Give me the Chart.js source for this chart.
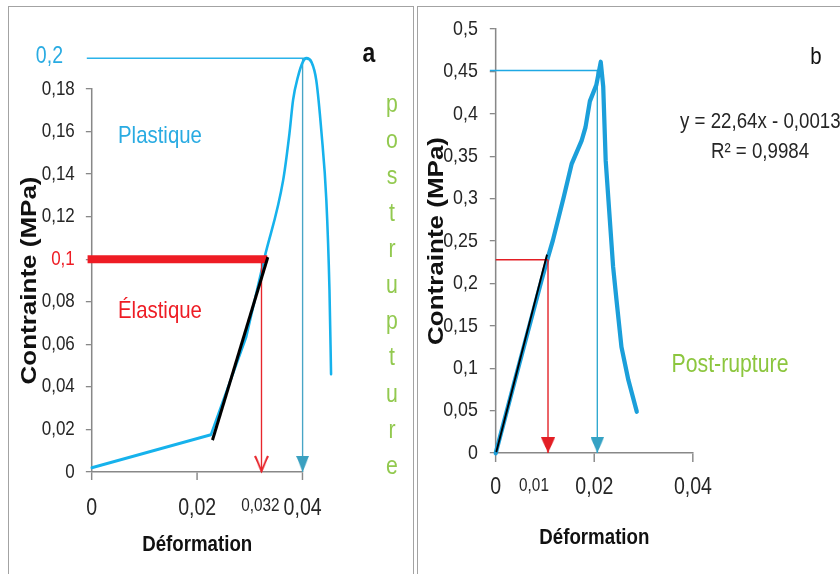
<!DOCTYPE html>
<html>
<head>
<meta charset="utf-8">
<script src="https://cdn.jsdelivr.net/npm/chart.js@4.4.1/dist/chart.umd.min.js"></script>
<style>
  html, body { margin: 0; padding: 0; background: #fff; }
  body { width: 840px; height: 574px; position: relative; overflow: hidden; }
  .panel { position: absolute; border: 1.5px solid #a3a3a3; box-sizing: border-box; }
  #panelA { left: 8px; top: 6px; width: 406px; height: 620px; }
  #panelB { left: 417px; top: 6px; width: 500px; height: 620px; }
  .wrap { position: absolute; top: 0; height: 574px; overflow: hidden; }
  #wrapA { left: 0; width: 415px; }
  #wrapB { left: 415px; width: 425px; }
  .inner { position: absolute; left: 0; top: 0; height: 574px; }
  #innerA { width: 488px; }
  #innerB { width: 500px; }
</style>
</head>
<body>
<div class="panel" id="panelA"></div>
<div class="panel" id="panelB"></div>
<div class="wrap" id="wrapA"><div class="inner" id="innerA"><canvas id="chartA"></canvas></div></div>
<div class="wrap" id="wrapB"><div class="inner" id="innerB"><canvas id="chartB"></canvas></div></div>
<script>
// --- Data: panel a ---
const strainA = [0, 0.0226, 0.0293, 0.0328, 0.0363, 0.0375, 0.0382, 0.0391, 0.0400, 0.0407, 0.0417, 0.0426, 0.0436, 0.0445, 0.0451, 0.0454];
const stressA = [0.002, 0.0175, 0.0635, 0.101, 0.137, 0.159, 0.175, 0.1856, 0.1925, 0.1944, 0.1926, 0.184, 0.159, 0.128, 0.0855, 0.046];
const kneeA = 3;                         // index where the smooth upper part starts
const fitStrainA = [0.0229, 0.0334];
const fitStressA = [0.015, 0.101];
const elasticBarA = [-0.0008, 0.0333];   // red "0,1" bar
const elasticStressA = 0.1;
const elasticStrainA = 0.0322;
const peakLineA = [-0.00095, 0.0407];
const peakStressA = 0.1944;
const peakStrainA = 0.040;
const xTicksA = [0, 0.02, 0.032, 0.04];

// --- Data: panel b ---
const strainB = [0, 0.0039, 0.0093, 0.0106, 0.0116, 0.0138, 0.0154, 0.0174, 0.0182, 0.0191, 0.0204, 0.0213, 0.0218, 0.0223, 0.0238, 0.0245, 0.0255, 0.0269, 0.0286];
const stressB = [0, 0.086, 0.204, 0.231, 0.251, 0.302, 0.341, 0.368, 0.384, 0.415, 0.434, 0.461, 0.432, 0.345, 0.22, 0.18, 0.125, 0.086, 0.049];
const fitStrainB = [0.0001, 0.0104];
const fitStressB = [0.001, 0.234];
const elasticStressB = 0.228;
const elasticStrainB = 0.0106;
const peakLineB = [-0.0012, 0.0212];
const peakStressB = 0.451;
const peakStrainB = 0.0206;

// --- Helpers ---
// the source figure is squeezed horizontally, so both charts are drawn with x scaled by SX
const SX = 0.85;
const lx = v => v / SX;
const FONT = '"Liberation Sans", Arial, sans-serif';
const AXIS = '#888888';
const TXT = '#262626';

const pts = (xs, ys) => xs.map((x, i) => ({ x: x, y: ys[i] }));
const tickFmt = v => String(+Number(v).toFixed(4)).replace('.', ',');

// arrow head image, apex sits at the image centre so it lands on the point
function arrowHead(color, w, h, open) {
    const c = document.createElement('canvas');
    c.width = w; c.height = 2 * h;
    const g = c.getContext('2d');
    g.strokeStyle = color; g.fillStyle = color; g.lineWidth = 2.2;
    g.beginPath();
    if (open) {
        g.moveTo(1, 1); g.lineTo(w / 2, h - 1); g.lineTo(w - 1, 1); g.stroke();
    } else {
        g.moveTo(0, 0); g.lineTo(w, 0); g.lineTo(w / 2, h); g.closePath(); g.fill();
    }
    return c;
}

function seg(data, color, width, extra) {
    return Object.assign({ data: data, showLine: true, borderColor: color, backgroundColor: color,
        borderWidth: width, pointRadius: 0, clip: false, borderCapStyle: 'butt' }, extra || {});
}

function arrow(x, top, color, head) {
    return seg([{ x: x, y: top }, { x: x, y: 0 }], color, 1.6,
        { pointRadius: [0, 6], pointStyle: head, pointBorderWidth: 0 });
}

const squeeze = {
    id: 'squeeze',
    beforeDraw(chart) { chart.ctx.save(); chart.ctx.scale(SX, 1); },
    afterDraw(chart) { chart.ctx.restore(); }
};

function notes(list) {
    return {
        id: 'notes',
        afterDatasetsDraw(chart) {
            const ctx = chart.ctx;
            list.forEach(l => {
                ctx.save();
                ctx.font = l.font;
                ctx.fillStyle = l.color;
                ctx.textAlign = l.align || 'center';
                ctx.textBaseline = l.base || 'middle';
                ctx.fillText(l.text, l.x, l.y);
                ctx.restore();
            });
        }
    };
}

function axes(o) {
    return {
        x: {
            type: 'linear',
            afterDataLimits: s => { s.min = 0; s.max = o.xMax; },
            afterBuildTicks: o.xTicks ? (s => { s.ticks = o.xTicks.map(v => ({ value: v })); }) : undefined,
            afterFit: s => { s.height = o.xHeight; },
            border: { color: AXIS, width: 1.5 },
            grid: { drawOnChartArea: false, tickLength: o.xTickLen, lineWidth: 1.7,
                tickColor: c => (c.tick && o.noMark && c.tick.value === o.noMark) ? 'rgba(0,0,0,0)' : AXIS },
            ticks: { stepSize: 0.02, autoSkip: false, maxRotation: 0, padding: o.xPad, color: TXT,
                callback: tickFmt,
                font: c => ({ family: FONT, size: (c.tick && o.small && c.tick.value === o.small) ? 18 : 23 }) },
            title: { display: true, text: 'Déformation', color: '#111', padding: 0,
                font: { family: FONT, weight: 'bold', size: 22 } }
        },
        y: {
            min: 0, max: o.yMax,
            afterFit: s => { s.width = o.yWidth; },
            border: { color: AXIS, width: 1.8 },
            grid: { drawOnChartArea: false, tickLength: 7, tickColor: AXIS, lineWidth: 1.3 },
            ticks: { stepSize: o.yStep, padding: o.yPad, callback: tickFmt,
                color: c => (o.redTick && c.tick && Math.abs(c.tick.value - o.redTick) < 1e-9) ? '#ee1c24' : TXT,
                font: { family: FONT, size: o.yFont } },
            title: { display: true, text: 'Contrainte (MPa)', color: '#111', padding: 0,
                font: { family: FONT, weight: 'bold', size: 26 } }
        }
    };
}

const baseOpts = {
    responsive: true,
    maintainAspectRatio: false,
    animation: false,
    plugins: { legend: { display: false }, tooltip: { enabled: false } }
};

// --- Panel a ---
const lettersA = 'postrupture'.split('').map((ch, i) => ({
    text: ch, x: lx(392), y: 112 + i * 36.2, base: 'alphabetic',
    font: '25px ' + FONT, color: '#92c94f'
}));
const curveA = pts(strainA, stressA);
const curveStyleA = { borderCapStyle: 'round', borderJoinStyle: 'round' };

new Chart(document.getElementById('chartA'), {
    type: 'scatter',
    data: {
        datasets: [
            seg(pts(fitStrainA, fitStressA), '#000000', 3.5),
            seg(pts(elasticBarA, [elasticStressA, elasticStressA]), '#ee1c24', 8),
            arrow(elasticStrainA, elasticStressA, '#e8262c', arrowHead('#e8262c', 17, 17, true)),
            seg(curveA.slice(0, kneeA + 1), '#16b2ec', 3, curveStyleA),
            seg(curveA.slice(kneeA), '#16b2ec', 3, Object.assign({ cubicInterpolationMode: 'monotone' }, curveStyleA)),
            arrow(peakStrainA, peakStressA, '#47a5c6', arrowHead('#3aa0c0', 15, 16, false)),
            seg(pts(peakLineA, [peakStressA, peakStressA]), '#2bb3ea', 1.5)
        ]
    },
    options: Object.assign({}, baseOpts, {
        layout: { padding: { left: 19, top: 89, right: 132, bottom: 16 } },
        scales: axes({ xMax: 0.04, xTicks: xTicksA, small: 0.032, noMark: 0.032, xHeight: 86, xTickLen: 8, xPad: 15,
            yMax: 0.18, yStep: 0.02, yWidth: 89, yPad: 13, yFont: 20, redTick: 0.1 })
    }),
    plugins: [squeeze, notes([
        { text: '0,2', x: lx(63), y: 57, align: 'right', font: '23px ' + FONT, color: '#29abe2' },
        { text: 'Plastique', x: lx(118), y: 136, align: 'left', font: '24px ' + FONT, color: '#29abe2' },
        { text: 'Élastique', x: lx(118), y: 311, align: 'left', font: '24px ' + FONT, color: '#ee1c24' },
        { text: 'a', x: lx(369), y: 55, font: 'bold 27px ' + FONT, color: '#111' }
    ].concat(lettersA))]
});

// --- Panel b ---
new Chart(document.getElementById('chartB'), {
    type: 'scatter',
    data: {
        datasets: [
            seg(pts(fitStrainB, fitStressB), '#000000', 2.2),
            seg(pts([0, elasticStrainB], [elasticStressB, elasticStressB]), '#e31e24', 1.5),
            arrow(elasticStrainB, elasticStressB, '#e31e24', arrowHead('#e31e24', 17, 16, false)),
            seg(pts(strainB, stressB), '#1b9fda', 5, { borderCapStyle: 'round', borderJoinStyle: 'round' }),
            arrow(peakStrainB, peakStressB, '#2fa8d0', arrowHead('#35a2c4', 16, 16, false)),
            seg(pts(peakLineB, [peakStressB, peakStressB]), '#1ea8e4', 1.5)
        ]
    },
    options: Object.assign({}, baseOpts, {
        layout: { padding: { left: 10, top: 29, right: 173, bottom: 23 } },
        scales: axes({ xMax: 0.04, xHeight: 98, xTickLen: 9, xPad: 11.5,
            yMax: 0.5, yStep: 0.05, yWidth: 85, yPad: 14, yFont: 21 })
    }),
    plugins: [squeeze, notes([
        { text: 'b', x: lx(401), y: 57, font: '24px ' + FONT, color: '#111' },
        { text: 'y = 22,64x - 0,0013', x: lx(265), y: 122, align: 'left', font: '22px ' + FONT, color: TXT },
        { text: 'R² = 0,9984', x: lx(345), y: 152, font: '22px ' + FONT, color: TXT },
        { text: 'Post-rupture', x: lx(315), y: 365, font: '25px ' + FONT, color: '#8cc63e' },
        { text: '0,01', x: lx(119), y: 486, font: '18px ' + FONT, color: TXT }
    ])]
});
</script>
</body>
</html>
